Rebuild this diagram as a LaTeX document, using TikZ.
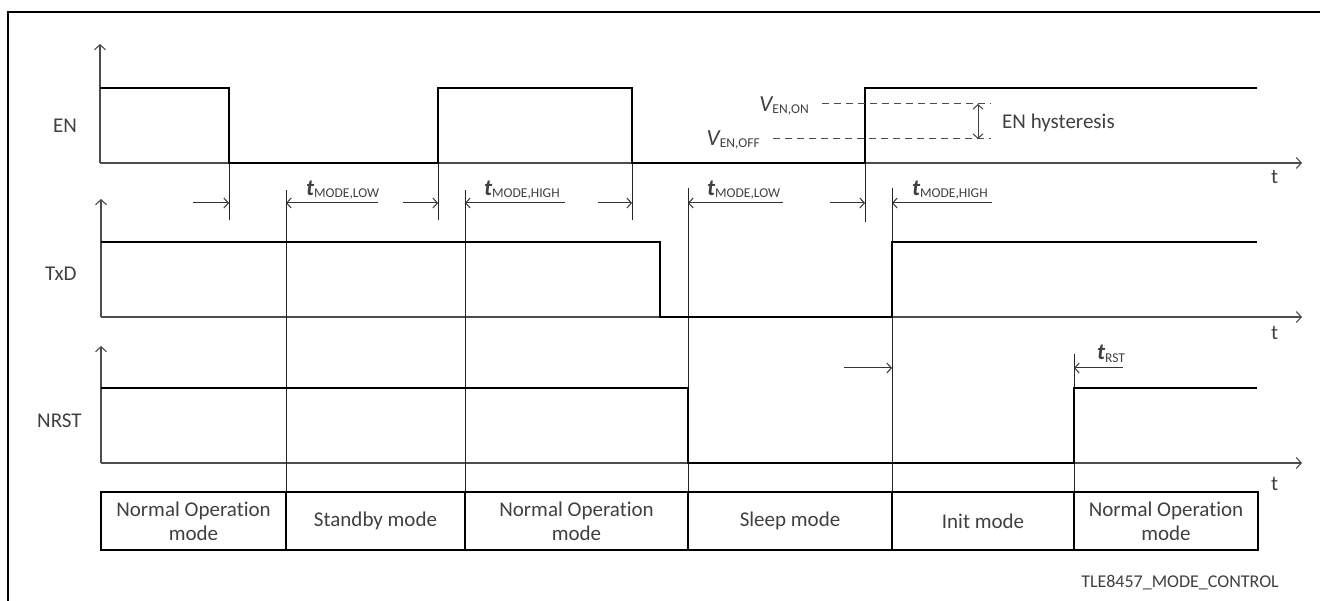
\documentclass[tikz,border=0pt]{standalone}
\usepackage{fontspec}
\setmainfont{Carlito}[Ligatures={NoCommon,NoContextual}]
\usetikzlibrary{arrows.meta}
\newcommand\tlab[1]{{\fontsize{23}{23}\selectfont\bfseries\itshape t}\raisebox{-2pt}{\fontsize{13.5}{13}\selectfont #1}}
\newcommand\vlab[1]{{\fontsize{23}{23}\selectfont\itshape V}\raisebox{-2pt}{\fontsize{13.5}{13}\selectfont #1}}
\begin{document}
\begin{tikzpicture}[x=1pt,y=-1pt,
  sig/.style={line width=2.8pt,black,line join=miter},
  axis/.style={line width=1.2pt,black!70,-{Straight Barb[length=5pt,width=11pt,line width=1.1pt]}},
  tline/.style={line width=0.9pt,black!85},
  tarr/.style={line width=1pt,black!80,-{Straight Barb[length=4.5pt,width=10pt,line width=1pt]}},
  dline/.style={line width=1pt,black!70,dash pattern=on 7pt off 5pt},
  lbl/.style={inner sep=0pt,text=black!75,font=\fontsize{21}{23}\selectfont},
  modebox/.style={draw=black,line width=2.6pt,minimum height=58pt,inner sep=0pt,align=center,
    text=black!75,font=\fontsize{21}{24}\selectfont}]
\useasboundingbox (0,0) rectangle (1320,601);
% frame
\draw[line width=1.3pt] (8,601) -- (8,12) -- (1320,12);

% ---------- axes ----------
\coordinate (enO) at (100,163);
\coordinate (txO) at (101,317);
\coordinate (nrO) at (101,463);
\draw[axis] (enO) -- (100,44);
\draw[axis] (enO) -- (1302,163);
\draw[axis] (txO) -- (101,199);
\draw[axis] (txO) -- (1302,317);
\draw[axis] (nrO) -- (101,346);
\draw[axis] (nrO) -- (1302,463);

\node[lbl,anchor=base west] (lEN) at (53,133) {EN};
\node[lbl,anchor=base west] (lTX) at (45,281) {TxD};
\node[lbl,anchor=base west] (lNR) at (37,428) {NRST};
\node[lbl,anchor=base west] (t1) at (1271,184) {t};
\node[lbl,anchor=base west] (t2) at (1271,340) {t};
\node[lbl,anchor=base west] (t3) at (1271,490) {t};

% ---------- timing verticals ----------
\draw[tline] (229,163) -- (229,220);
\draw[tline] (438,163) -- (438,220);
\draw[tline] (632,163) -- (632,220);
\draw[tline] (865,163) -- (865,222);
\draw[tline] (286,190) -- (286,492);
\draw[tline] (465,190) -- (465,492);
\draw[tline] (688,188) -- (688,492);
\draw[tline] (892,188) -- (892,492);
\draw[tline] (1074,354) -- (1074,492);

% ---------- signals ----------
\draw[sig] (100,88) -- (229,88) -- (229,163) -- (438,163) -- (438,88) -- (632,88)
  -- (632,163) -- (865,163) -- (865,88) -- (1257,88);
\draw[sig] (101,242) -- (660,242) -- (660,317) -- (892,317) -- (892,242) -- (1257,242);
\draw[sig] (101,388) -- (688,388) -- (688,463) -- (1074,463) -- (1074,388) -- (1257,388);

% ---------- timing arrows ----------
\draw[tarr] (193,203) -- (229,203);
\draw[tarr] (378,203) -- (286,203);
\draw[tarr] (403,203) -- (438,203);
\draw[tarr] (565,203) -- (465,203);
\draw[tarr] (598,203) -- (632,203);
\draw[tarr] (783,203) -- (688,203);
\draw[tarr] (830,203) -- (865,203);
\draw[tarr] (992,203) -- (892,203);
\draw[tarr] (844,368) -- (892,368);
\draw[tarr] (1123,368) -- (1074,368);

\node[lbl,anchor=base west] (tml1) at (306,196) {\tlab{MODE,LOW}};
\node[lbl,anchor=base west] (tmh1) at (484,196) {\tlab{MODE,HIGH}};
\node[lbl,anchor=base west] (tml2) at (707,196) {\tlab{MODE,LOW}};
\node[lbl,anchor=base west] (tmh2) at (912,196) {\tlab{MODE,HIGH}};
\node[lbl,anchor=base west] (trst) at (1097,360) {\tlab{RST}};

% ---------- hysteresis ----------
\coordinate (von) at (822,104);
\coordinate (voff) at (773,139);
\draw[dline] (von) -- (991,104);
\draw[dline] (voff) -- (991,139);
\draw[line width=1pt,black!75,{Straight Barb[length=4.5pt,width=10pt,line width=1pt]}-{Straight Barb[length=4.5pt,width=10pt,line width=1pt]}] (978,104) -- (978,139);
\node[lbl,anchor=base east] (lvon) at (809,112) {\vlab{EN,ON}};
\node[lbl,anchor=base east] (lvoff) at (760,146) {\vlab{EN,OFF}};
\node[lbl,anchor=base west] (hyst) at (1002,129) {EN hysteresis};

% ---------- mode boxes ----------
\node[modebox,minimum width=185pt] (m1) at (193.5,521) {Normal Operation\\mode};
\node[modebox,minimum width=179pt] (m2) at (375.5,521) {Standby mode};
\node[modebox,minimum width=223pt] (m3) at (576.5,521) {Normal Operation\\mode};
\node[modebox,minimum width=204pt] (m4) at (790,521) {Sleep mode};
\node[modebox,minimum width=182pt] (m5) at (983,521) {Init mode};
\node[modebox,minimum width=184pt] (m6) at (1166,521) {Normal Operation\\mode};

\node[inner sep=0pt,anchor=base east,text=black!75,font=\fontsize{18}{20}\selectfont] (ref) at (1279,587) {TLE8457\_MODE\_CONTROL};
\end{tikzpicture}
\end{document}
